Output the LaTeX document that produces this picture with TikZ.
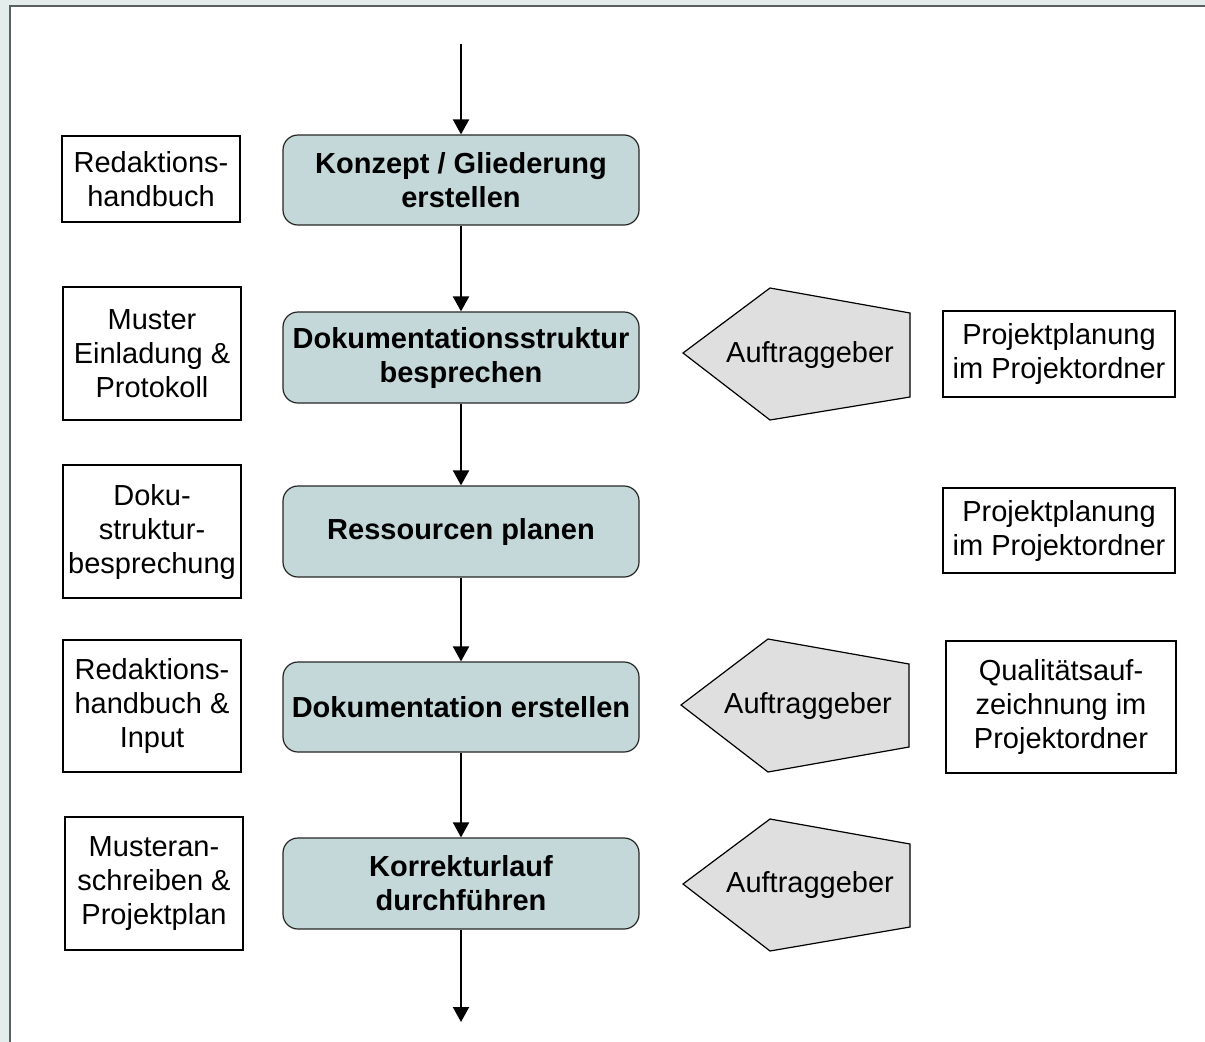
\documentclass[tikz,border=0pt]{standalone}
\usepackage{fontspec}
\setmainfont{Liberation Sans}
\usetikzlibrary{arrows.meta}
\definecolor{bgout}{HTML}{E4ECEC}
\definecolor{framec}{HTML}{5A5F5F}
\definecolor{stepfill}{HTML}{C4D8DA}
\definecolor{pentfill}{HTML}{DFDFDF}
\begin{document}
\begin{tikzpicture}[x=1bp,y=-1bp,
  txt/.style={font=\fontsize{29bp}{34bp}\selectfont, align=center, inner sep=0pt},
  docbox/.style={txt, draw=black, fill=white, line width=1.2bp, minimum width=178bp},
  stepbox/.style={txt, font=\fontsize{29bp}{34bp}\selectfont\bfseries, draw=black!85, fill=stepfill, line width=1.2bp, rounded corners=15bp, minimum width=356bp, minimum height=91bp},
  penta/.style={draw=black, fill=pentfill, line width=1.2bp, line join=miter},
  flow/.style={line width=2bp, -{Triangle[width=16bp,length=15bp]}}
]
\fill[bgout] (0,0) rectangle (1205,1042);
\useasboundingbox (0,0) rectangle (1205,1042);
\fill[white] (10,6) rectangle (1205,1042);
\draw[framec, line width=2bp] (10,1042) -- (10,6) -- (1205,6);

% left document boxes
\node[docbox, minimum height=86bp] (l1) at (151,179) {Redaktions-\\handbuch};
\node[docbox, minimum height=133bp] (l2) at (152,353.5) {Muster\\Einladung \&\\Protokoll};
\node[docbox, minimum height=133bp] (l3) at (152,531.5) {Doku-\\struktur-\\besprechung};
\node[docbox, minimum height=132bp] (l4) at (152,706) {Redaktions-\\handbuch \&\\Input};
\node[docbox, minimum height=133bp] (l5) at (154,883.5) {Musteran-\\schreiben \&\\Projektplan};

% process steps
\node[stepbox, minimum height=90bp] (s1) at (461,180) {Konzept / Gliederung\\erstellen};
\node[stepbox] (s2) at (461,357.5) {Dokumentationsstruktur\\besprechen};
\node[stepbox] (s3) at (461,531.5) {Ressourcen planen};
\node[stepbox, minimum height=90bp] (s4) at (461,707) {Dokumentation erstellen};
\node[stepbox] (s5) at (461,883.5) {Korrekturlauf\\durchführen};

% pentagons
\draw[penta] (683,353) -- (770,288) -- (910,313) -- (910,397) -- (770,420) -- cycle;
\node[txt] (a1) at (810,355) {Auftraggeber};
\draw[penta] (681,705) -- (768,639) -- (909,664) -- (909,747) -- (768,772) -- cycle;
\node[txt] (a2) at (808,706) {Auftraggeber};
\draw[penta] (683,884) -- (770,819) -- (910,844) -- (910,927) -- (770,951) -- cycle;
\node[txt] (a3) at (810,885) {Auftraggeber};

% right boxes
\node[docbox, minimum width=232bp, minimum height=86bp] (r1) at (1059,354) {Projektplanung\\im Projektordner};
\node[docbox, minimum width=232bp, minimum height=85bp] (r2) at (1059,530.5) {Projektplanung\\im Projektordner};
\node[docbox, minimum width=230bp, minimum height=132bp] (r3) at (1061,707) {Qualitätsauf-\\zeichnung im\\Projektordner};

% connectors
\coordinate (start) at (461,44);
\coordinate (finish) at (461,1022);
\draw[flow] (start) -- (s1.north);
\draw[flow] (s1) -- (s2);
\draw[flow] (s2) -- (s3);
\draw[flow] (s3) -- (s4);
\draw[flow] (s4) -- (s5);
\draw[flow] (s5.south) -- (finish);
\end{tikzpicture}
\end{document}
